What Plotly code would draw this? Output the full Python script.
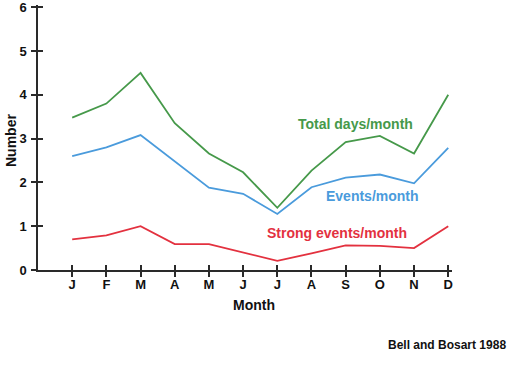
import plotly.graph_objects as go

months = ["J", "F", "M", "A", "M", "J", "J", "A", "S", "O", "N", "D"]
total_days = [3.48, 3.80, 4.50, 3.35, 2.66, 2.23, 1.42, 2.27, 2.92, 3.06, 2.66, 4.00]
events = [2.60, 2.80, 3.08, 2.47, 1.88, 1.74, 1.28, 1.89, 2.11, 2.18, 1.98, 2.79]
strong = [0.70, 0.79, 1.00, 0.59, 0.59, 0.40, 0.21, 0.38, 0.56, 0.55, 0.50, 1.00]
y_ticks = [0, 1, 2, 3, 4, 5, 6]

GREEN = "#46994a"
BLUE = "#4a9bdc"
RED = "#e3313f"
AXIS = "#2a2a2a"
FONT = "Liberation Sans, Arial, sans-serif"

idx = list(range(len(months)))

fig = go.Figure()
for vals, col in [(total_days, GREEN), (events, BLUE), (strong, RED)]:
    fig.add_trace(go.Scatter(x=idx, y=vals, mode="lines",
                             line=dict(color=col, width=1.8),
                             showlegend=False, hoverinfo="skip"))
fig.add_trace(go.Scatter(x=[0], y=[0], xaxis="x2", yaxis="y2", mode="markers",
                         marker=dict(opacity=0), showlegend=False, hoverinfo="skip"))

xr = [-1.0, 11.11]
yr = [0, 6.05]

fig.update_layout(
    width=521, height=367,
    margin=dict(l=38, r=69, t=5, b=97),
    paper_bgcolor="white", plot_bgcolor="white",
    font=dict(family=FONT, color="#111", size=13),
    hovermode=False,
    xaxis=dict(range=xr, tickvals=idx, ticktext=["<b>%s</b>" % m for m in months],
               ticks="outside", ticklen=5, tickwidth=2, tickcolor=AXIS,
               showline=True, linecolor=AXIS, linewidth=1.5, showgrid=False,
               zeroline=False, tickfont=dict(size=13, family=FONT, color="#111"),
               automargin=False, ticklabelstandoff=-3, ticklabeloverflow="allow"),
    yaxis=dict(range=yr, tickvals=y_ticks, ticktext=["<b>%d</b>" % v for v in y_ticks],
               ticks="outside", ticklen=5, tickwidth=1.5, tickcolor=AXIS,
               showline=True, linecolor=AXIS, linewidth=1.5, showgrid=False,
               zeroline=False, tickfont=dict(size=13, family=FONT, color="#111"),
               automargin=False, ticklabelstandoff=2, ticklabeloverflow="allow"),
    xaxis2=dict(range=xr, overlaying="x", side="bottom", anchor="y2",
                tickvals=idx, showticklabels=False, ticks="inside", ticklen=5,
                tickwidth=2, tickcolor=AXIS, showgrid=False, zeroline=False,
                showline=False, automargin=False),
    yaxis2=dict(range=yr, overlaying="y", side="left", anchor="x2",
                tickvals=y_ticks[1:], showticklabels=False, ticks="inside", ticklen=5,
                tickwidth=1.5, tickcolor=AXIS, showgrid=False, zeroline=False,
                showline=False, automargin=False),
)

fig.add_annotation(x=8.30, y=3.33, text="<b>Total days/month</b>", showarrow=False,
                   xanchor="center", font=dict(size=14, color=GREEN, family=FONT))
fig.add_annotation(x=8.79, y=1.70, text="<b>Events/month</b>", showarrow=False,
                   xanchor="center", font=dict(size=14, color=BLUE, family=FONT))
fig.add_annotation(x=7.76, y=0.84, text="<b>Strong events/month</b>", showarrow=False,
                   xanchor="center", font=dict(size=14, color=RED, family=FONT))
fig.add_annotation(xref="paper", yref="paper", x=(254 - 38) / 414, y=-(305 - 270) / 265,
                   text="<b>Month</b>", showarrow=False, xanchor="center", yanchor="middle",
                   font=dict(size=14, color="#111", family=FONT))
fig.add_annotation(xref="paper", yref="paper", x=-(38 - 11) / 414, y=(270 - 141) / 265,
                   text="<b>Number</b>", showarrow=False, textangle=-90,
                   xanchor="center", yanchor="middle",
                   font=dict(size=14, color="#111", family=FONT))
fig.add_annotation(xref="paper", yref="paper", x=(447 - 38) / 414, y=-(345 - 270) / 265,
                   text="<b>Bell and Bosart 1988</b>", showarrow=False,
                   xanchor="center", yanchor="middle",
                   font=dict(size=12, color="#111", family=FONT))

fig.write_html("out.html", config={"displayModeBar": False},
               post_script="document.body.style.margin='0px';")
